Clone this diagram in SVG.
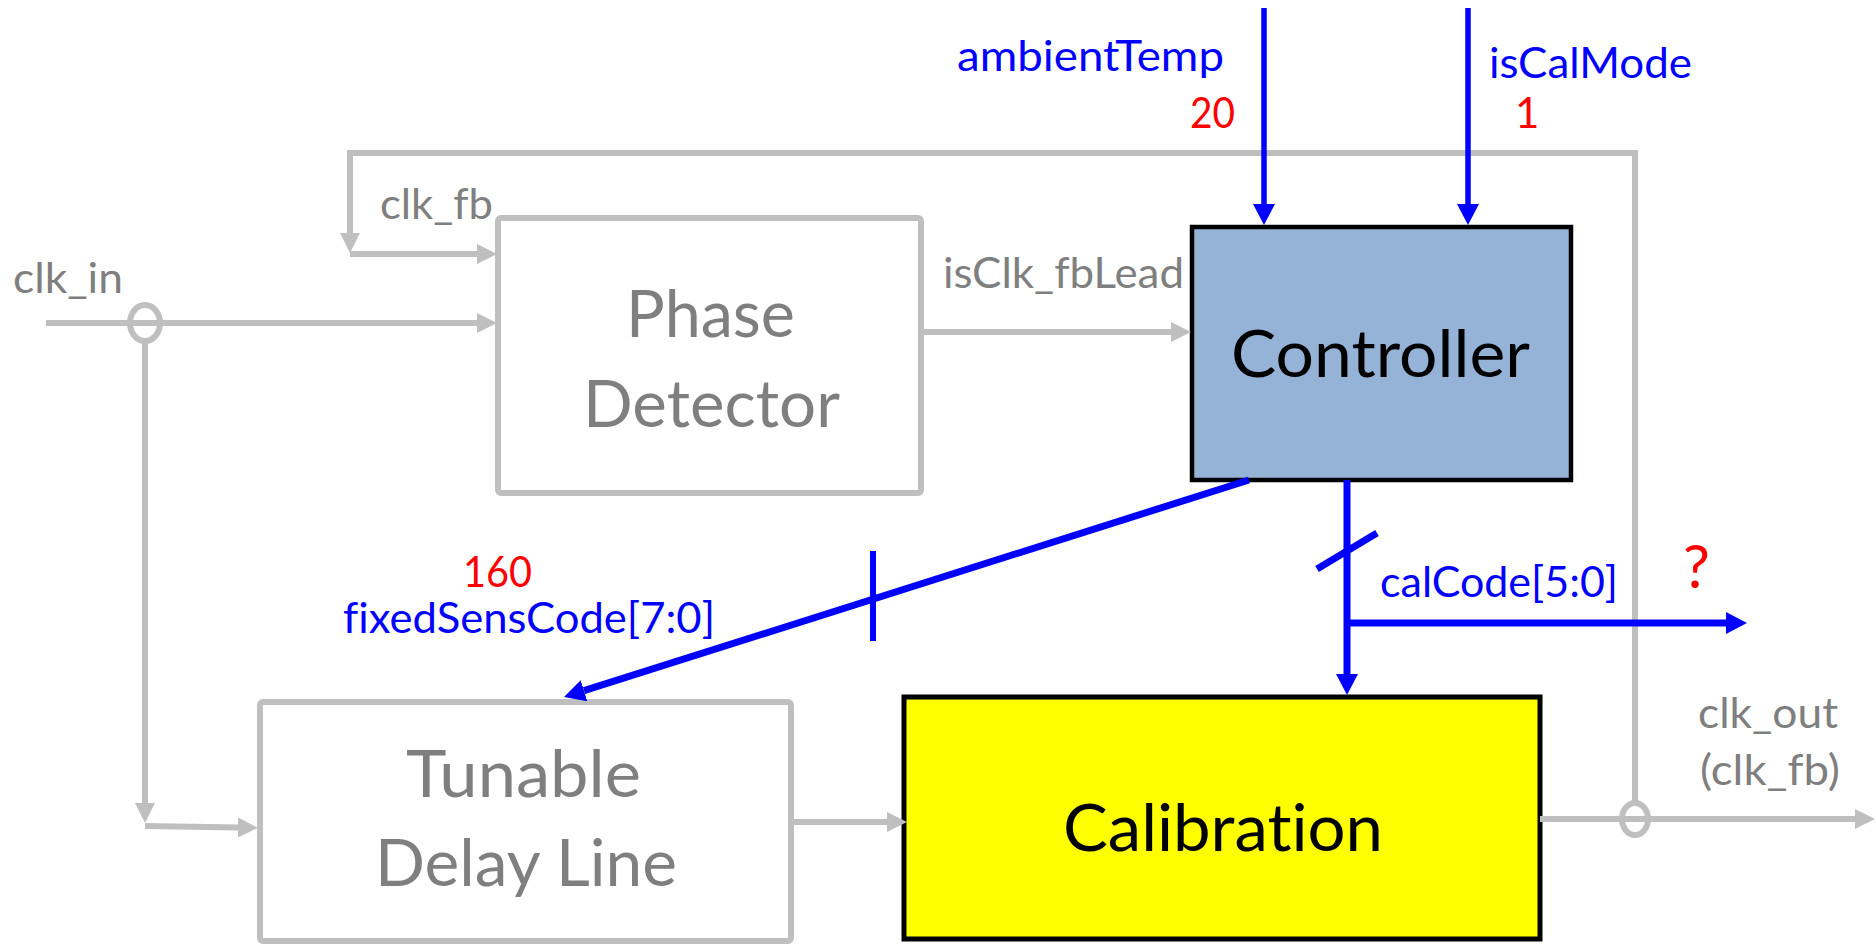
<svg xmlns="http://www.w3.org/2000/svg" width="1876" height="944" viewBox="0 0 1876 944">
  <style>
    text { font-family: "Lato", "Liberation Sans", sans-serif; font-variant-ligatures: none; font-feature-settings: "liga" 0, "clig" 0; }
    .lbl { font-size: 42px; }
    .big { font-size: 66px; }
    .gray-t { fill: #7F7F7F; }
    .blue-t { fill: #0000FF; }
    .red-t { fill: #FF0000; }
    .blk-t { fill: #000000; }
    .gw { fill: none; stroke: #BFBFBF; stroke-width: 6; }
    .bw { fill: none; stroke: #0000FF; stroke-width: 7; }
    .bw-thin { fill: none; stroke: #0000FF; stroke-width: 5.5; }
  </style>
  <defs>
    <marker id="ga" markerUnits="userSpaceOnUse" markerWidth="20" markerHeight="20" refX="0" refY="10" orient="auto" viewBox="0 0 20 20">
      <path d="M0,0 L20,10 L0,20 Z" fill="#BFBFBF"/>
    </marker>
    <marker id="ba" markerUnits="userSpaceOnUse" markerWidth="21" markerHeight="22" refX="0" refY="11" orient="auto" viewBox="0 0 21 22">
      <path d="M0,0 L21,11 L0,22 Z" fill="#0000FF"/>
    </marker>
  </defs>

  <rect width="1876" height="944" fill="#FFFFFF"/>

  <!-- blocks -->
  <g id="phase-detector">
    <rect x="498" y="218" width="423" height="275" rx="3" fill="#FFFFFF" stroke="#BFBFBF" stroke-width="6"/>
    <text class="big gray-t" x="626" y="337" textLength="169" lengthAdjust="spacingAndGlyphs">Phase</text>
    <text class="big gray-t" x="583" y="427" textLength="257" lengthAdjust="spacingAndGlyphs">Detector</text>
  </g>

  <g id="controller">
    <rect x="1192" y="227" width="379" height="253" fill="#95B3D7" stroke="#000000" stroke-width="4.5"/>
    <text class="big blk-t" x="1231" y="377" textLength="299" lengthAdjust="spacingAndGlyphs">Controller</text>
  </g>

  <g id="tunable-delay-line">
    <rect x="260" y="702" width="531" height="239" rx="3" fill="#FFFFFF" stroke="#BFBFBF" stroke-width="6"/>
    <text class="big gray-t" x="406" y="797" textLength="235" lengthAdjust="spacingAndGlyphs">Tunable</text>
    <text class="big gray-t" x="375" y="886" textLength="302" lengthAdjust="spacingAndGlyphs">Delay Line</text>
  </g>

  <g id="calibration">
    <rect x="904" y="697" width="636" height="242" fill="#FFFF00" stroke="#000000" stroke-width="5"/>
    <text class="big blk-t" x="1063" y="851" textLength="320" lengthAdjust="spacingAndGlyphs">Calibration</text>
  </g>

  <!-- connectors -->
  <g id="connectors">
    <!-- clock path (gray) -->
    <path class="gw" d="M1635,803 V153 H350 V233" marker-end="url(#ga)"/>
    <path class="gw" d="M350,254 H477" marker-end="url(#ga)"/>
    <path class="gw" d="M46,323 H477" marker-end="url(#ga)"/>
    <ellipse class="gw" cx="145" cy="323" rx="15" ry="18"/>
    <path class="gw" d="M145,341 V803" marker-end="url(#ga)"/>
    <path class="gw" d="M145,826 L238,827.5" marker-end="url(#ga)"/>
    <path class="gw" d="M921,332 H1171" marker-end="url(#ga)"/>
    <path class="gw" d="M791,822 H887" marker-end="url(#ga)"/>
    <path class="gw" d="M1540,819 H1855" marker-end="url(#ga)"/>
    <ellipse class="gw" cx="1635" cy="819" rx="13" ry="16"/>

    <!-- control inputs (blue) -->
    <path class="bw-thin" d="M1264,8 V204" marker-end="url(#ba)"/>
    <path class="bw-thin" d="M1468,8 V204" marker-end="url(#ba)"/>

    <!-- fixedSensCode bus -->
    <path class="bw" d="M1249,480 L584,690.7" marker-end="url(#ba)"/>
    <path class="bw" style="stroke-width:6" d="M873,551 V641"/>

    <!-- calCode bus -->
    <path class="bw" d="M1347,480 V674" marker-end="url(#ba)"/>
    <path class="bw" d="M1347,623 H1726" marker-end="url(#ba)"/>
    <path class="bw" d="M1317,569 L1377,533"/>
  </g>

  <!-- signal labels -->
  <g id="labels">
    <text class="lbl gray-t" x="13" y="293" textLength="110" lengthAdjust="spacingAndGlyphs">clk_in</text>
    <text class="lbl gray-t" x="380" y="219" textLength="113" lengthAdjust="spacingAndGlyphs">clk_fb</text>
    <text class="lbl gray-t" x="943" y="288" textLength="241" lengthAdjust="spacingAndGlyphs">isClk_fbLead</text>
    <text class="lbl blue-t" x="957" y="71" textLength="267" lengthAdjust="spacingAndGlyphs">ambientTemp</text>
    <text class="lbl red-t" x="1190" y="128" textLength="45" lengthAdjust="spacingAndGlyphs">20</text>
    <text class="lbl blue-t" x="1489" y="78" textLength="203" lengthAdjust="spacingAndGlyphs">isCalMode</text>
    <text class="lbl red-t" x="1515" y="128">1</text>
    <text class="lbl red-t" x="463" y="587" textLength="69" lengthAdjust="spacingAndGlyphs">160</text>
    <text class="lbl blue-t" x="343" y="633" textLength="372" lengthAdjust="spacingAndGlyphs">fixedSensCode[7:0]</text>
    <text class="lbl blue-t" x="1380" y="597" textLength="238" lengthAdjust="spacingAndGlyphs">calCode[5:0]</text>
    <text class="red-t" style="font-size:60px" x="1683" y="588">?</text>
    <text class="lbl gray-t" x="1698" y="728" textLength="140" lengthAdjust="spacingAndGlyphs">clk_out</text>
    <text class="lbl gray-t" x="1700" y="785" textLength="140" lengthAdjust="spacingAndGlyphs">(clk_fb)</text>
  </g>
</svg>
